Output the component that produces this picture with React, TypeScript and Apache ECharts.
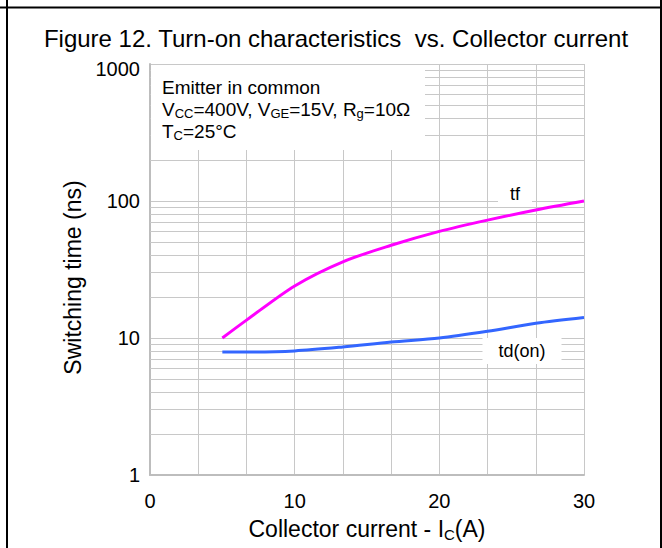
import React, { useEffect, useRef } from "react";
import * as echarts from "echarts";

// Collector current (A)
const currentA = [5, 6.67, 10, 13.33, 16.67, 20, 23.33, 26.67, 30];
// Fall time tf (ns)
const tfNs = [10, 13.5, 24, 36, 47.5, 60, 72.5, 86, 100];
// Turn-on delay td(on) (ns)
const tdOnNs = [7.9, 7.9, 8.05, 8.6, 9.35, 10, 11.2, 12.8, 14.1];
// Decade ticks and log minor grid values
const yDecades = [1, 10, 100, 1000];
const yMinorGrid = [2, 3, 4, 5, 6, 7, 8, 9, 20, 30, 40, 50, 60, 70, 80, 90, 200, 300, 400, 500, 600, 700, 800, 900];

const FONT = "'Liberation Sans', Arial, sans-serif";
const GRID_COLOR = "#c8c8c8";

export default function App() {
  const ref = useRef<HTMLDivElement>(null);

  useEffect(() => {
    if (!ref.current) return;
    const chart = echarts.init(ref.current, undefined, { renderer: "svg" });
    const pairs = (ys: number[]) => currentA.map((x, i) => [x, ys[i]]);
    const yMax = yDecades[yDecades.length - 1];

    chart.setOption({
      animation: false,
      backgroundColor: "#fff",
      textStyle: { fontFamily: FONT },
      grid: { left: 150, right: 78, top: 64, bottom: 73, containLabel: false },
      xAxis: {
        type: "value",
        min: 0,
        max: 30,
        interval: 10,
        name: "{t|Collector current - I}{s|C}{t|(A)}",
        nameLocation: "middle",
        nameGap: 40,
        nameTextStyle: {
          rich: {
            t: { fontSize: 23, color: "#000", fontFamily: FONT },
            s: { fontSize: 15, color: "#000", fontFamily: FONT, padding: [12, 0, 0, 0] },
          },
        },
        axisLine: { show: true, lineStyle: { color: "#bdbdbd", width: 2 } },
        axisTick: { show: false },
        axisLabel: { fontSize: 20, color: "#000", margin: 16, fontFamily: FONT },
        splitLine: { show: true, lineStyle: { color: GRID_COLOR, width: 1 } },
        minorTick: { show: false, splitNumber: 3 },
        minorSplitLine: { show: true, lineStyle: { color: GRID_COLOR, width: 1 } },
      },
      yAxis: {
        type: "log",
        logBase: 10,
        min: yDecades[0],
        max: yMax,
        name: "Switching time (ns)",
        nameLocation: "middle",
        nameGap: 55,
        nameTextStyle: { fontSize: 23, color: "#000", fontFamily: FONT, padding: [0, 16, 0, 0] },
        axisLine: { show: true, lineStyle: { color: "#bdbdbd", width: 2 } },
        axisTick: { show: false },
        axisLabel: {
          fontSize: 20,
          color: "#000",
          margin: 10,
          fontFamily: FONT,
          formatter: (v: number) => (Math.round(v) === yMax ? `{d|${Math.round(v)}}` : String(Math.round(v))),
          rich: { d: { fontSize: 20, color: "#000", fontFamily: FONT, padding: [10, 0, 0, 0] } },
        },
        splitLine: { show: true, lineStyle: { color: GRID_COLOR, width: 1 } },
      },
      series: [
        {
          name: "grid",
          type: "line",
          data: [],
          silent: true,
          z: 1,
          markLine: {
            silent: true,
            symbol: "none",
            label: { show: false },
            lineStyle: { color: GRID_COLOR, width: 1, type: "solid" },
            data: yMinorGrid.map((v) => ({ yAxis: v })),
          },
        },
        {
          name: "tf",
          type: "line",
          smooth: 0.3,
          showSymbol: false,
          z: 5,
          lineStyle: { color: "#ff00ff", width: 3 },
          itemStyle: { color: "#ff00ff" },
          data: pairs(tfNs),
        },
        {
          name: "td(on)",
          type: "line",
          smooth: 0.3,
          showSymbol: false,
          z: 5,
          lineStyle: { color: "#3366ff", width: 3 },
          itemStyle: { color: "#3366ff" },
          data: pairs(tdOnNs),
        },
      ],
      graphic: [
        // table-cell frame
        { type: "line", z: 200, shape: { x1: 7, y1: 0, x2: 7, y2: 548 }, style: { stroke: "#000", lineWidth: 2 } },
        { type: "line", z: 200, shape: { x1: 0, y1: 7.5, x2: 662, y2: 7.5 }, style: { stroke: "#000", lineWidth: 2 } },
        { type: "line", z: 200, shape: { x1: 661, y1: 0, x2: 661, y2: 548 }, style: { stroke: "#000", lineWidth: 2 } },
        {
          type: "text",
          z: 200,
          x: 336,
          y: 38,
          style: {
            text: "Figure 12. Turn-on characteristics  vs. Collector current",
            fontSize: 24,
            fontFamily: FONT,
            fill: "#000",
            align: "center",
            verticalAlign: "middle",
          },
        },
        // conditions box
        { type: "rect", z: 100, shape: { x: 151, y: 65, width: 274, height: 85 }, style: { fill: "#fff" } },
        {
          type: "text",
          z: 110,
          x: 162,
          y: 76,
          style: {
            text: "{t|Emitter in common}\n{t|V}{s|CC}{t|=400V, V}{s|GE}{t|=15V, R}{s|g}{t|=10Ω}\n{t|T}{s|C}{t|=25°C}",
            fill: "#000",
            rich: {
              t: { fontSize: 19, fontFamily: FONT, fill: "#000", lineHeight: 22 },
              s: { fontSize: 13, fontFamily: FONT, fill: "#000", lineHeight: 22, padding: [9, 0, 0, 0] },
            },
          },
        },
        {
          type: "text",
          z: 110,
          x: 515,
          y: 194,
          style: {
            text: "tf",
            fontSize: 18,
            fontFamily: FONT,
            fill: "#000",
            align: "center",
            verticalAlign: "middle",
            backgroundColor: "#fff",
            padding: [0, 12, 0, 12],
          },
        },
        {
          type: "text",
          z: 110,
          x: 522,
          y: 351,
          style: {
            text: "td(on)",
            fontSize: 18,
            fontFamily: FONT,
            fill: "#000",
            align: "center",
            verticalAlign: "middle",
            backgroundColor: "#fff",
            padding: [4, 16, 4, 16],
          },
        },
      ],
    });

    return () => chart.dispose();
  }, []);

  return (
    <div
      ref={ref}
      style={{ position: "absolute", left: 0, top: 0, width: 662, height: 548 }}
    />
  );
}
